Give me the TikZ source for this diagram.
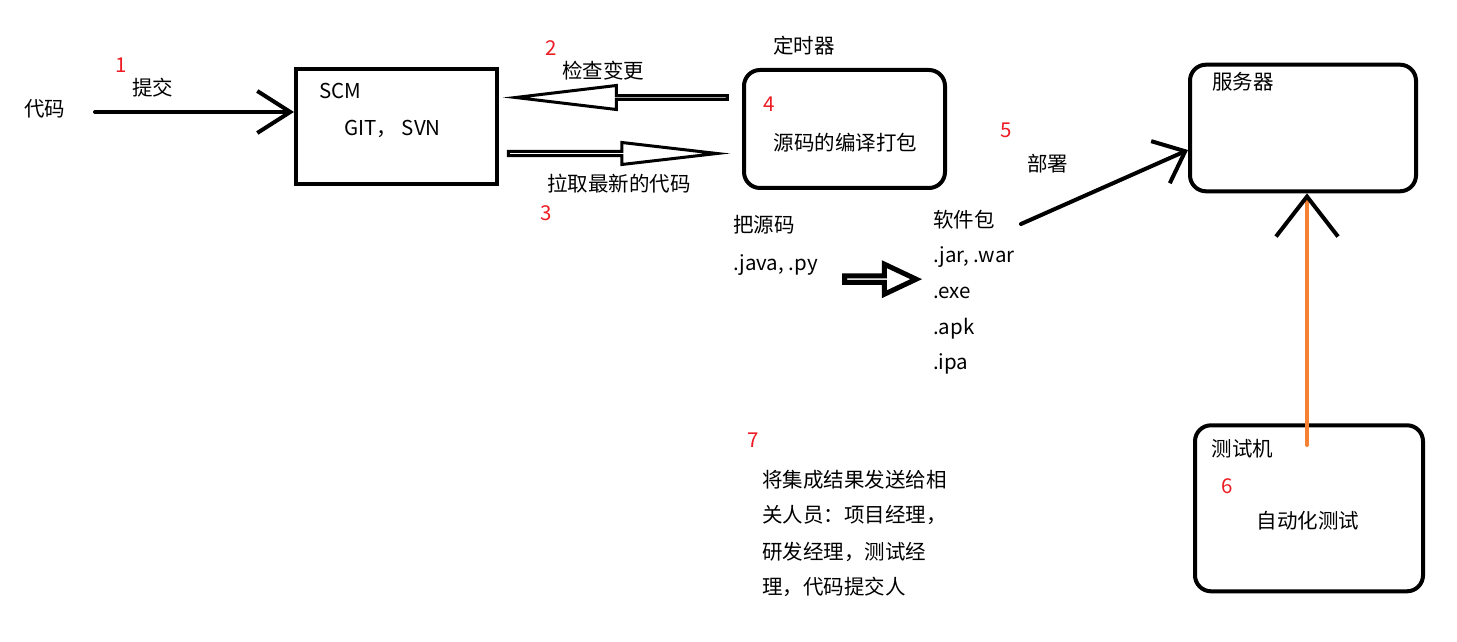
\documentclass[tikz,border=0pt]{standalone}
\usepackage{fontspec}
\setmainfont{Noto Sans CJK SC}
\usetikzlibrary{arrows.meta}
\usetikzlibrary{shapes.arrows}
\definecolor{numred}{RGB}{237,28,36}
\definecolor{testorange}{RGB}{245,130,50}

\begin{document}
\begin{tikzpicture}[x=1pt, y=1pt, text height=16pt, text depth=4pt, inner sep=0pt,
				font=\fontsize{20.5}{24}\selectfont,
				plainbox/.style={rectangle, draw, line width=4pt},
				roundbox/.style={rectangle, rounded corners=16pt, draw, line width=4pt},
				num/.style={text=numred},
				hollow/.style={single arrow, draw, line width=3pt, anchor=tip, text height=0pt, text depth=0pt},
				thickline/.style={line width=4pt, line cap=round}]

				\useasboundingbox (0,0) rectangle (1457,642);

				% source control
				\node (code) at (44.5,531) {代码};
				\node (n1) [num] at (121,575) {1};
				\node (commit) at (152.5,552) {提交};
				\node (scm) [plainbox, minimum width=201pt, minimum height=115pt] at (396.5,515) {};
				\node (scmname) at (340,549) {SCM};
				\node (scmtools) at (392.5,512) {GIT， SVN};

				% polling / pulling
				\node (check) [hollow, shape border rotate=180, single arrow tip angle=13.6, single arrow head extend=7.7pt, minimum width=24pt, minimum height=211.8pt] at (503,544.5) {};
				\node (n2) [num] at (551,592) {2};
				\node (checktext) at (603,569) {检查变更};
				\node (pull) [hollow, single arrow tip angle=13.2, single arrow head extend=6.2pt, minimum width=22pt, minimum height=208.7pt] at (730,488.5) {};
				\node (pulltext) at (619,456) {拉取最新的代码};
				\node (n3) [num] at (546,427) {3};

				% build
				\node (timer) at (804,594) {定时器};
				\node (build) [roundbox, minimum width=201pt, minimum height=118pt] at (844.5,513) {};
				\node (n4) [num] at (769,536) {4};
				\node (buildtext) at (845.5,497) {源码的编译打包};

				\node (src) [anchor=west] at (733,415.3) {把源码};
				\node (srcext) [anchor=west] at (733,377) {.java, .py};
				\node (compile) [hollow, line width=5pt, single arrow tip angle=50.6, single arrow head extend=9.2pt, minimum width=30pt, minimum height=71.6pt] at (922,362.8) {};

				\node (pkg) [anchor=west] at (933,420.3) {软件包};
				\node (pkg1) [anchor=west] at (933,385.3) {.jar, .war};
				\node (pkg2) [anchor=west] at (933,349.3) {.exe};
				\node (pkg3) [anchor=west] at (933,313.7) {.apk};
				\node (pkg4) [anchor=west] at (933,278) {.ipa};

				% deploy
				\node (n5) [num] at (1006,510) {5};
				\node (deploy) at (1047.5,476) {部署};
				\node (server) [roundbox, minimum width=226pt, minimum height=126.6pt] at (1303,514) {};
				\node (servertext) at (1243,558.7) {服务器};

				% test
				\node (tester) [roundbox, minimum width=228pt, minimum height=166pt] at (1309,133.7) {};
				\node (testertext) at (1242.5,191) {测试机};
				\node (n6) [num] at (1227,154) {6};
				\node (autotest) at (1308,119) {自动化测试};

				% notify
				\node (n7) [num] at (753.3,200.3) {7};
				\node (note1) [anchor=west] at (762,160.3) {将集成结果发送给相};
				\node (note2) [anchor=west] at (762,125.3) {关人员：项目经理，};
				\node (note3) [anchor=west] at (762,88.7) {研发经理，测试经};
				\node (note4) [anchor=west] at (762,53.7) {理，代码提交人};

				\coordinate (codeout) at (95,530);
				\coordinate (pkgout) at (1021,418);
				\coordinate (testtop) at (1307,197);

				\draw [thickline, -{Straight Barb[length=33pt, width=42pt]}] (codeout) -- (codeout -| scm.west);
				\draw [thickline, -{Straight Barb[length=27pt, width=46pt]}] (pkgout) -- ([yshift=-22pt]server.west);
				\draw [thickline, testorange, -{Straight Barb[length=40pt, width=62pt, color=black]}] (testtop) -- (testtop |- server.south);
			\end{tikzpicture}
\end{document}
